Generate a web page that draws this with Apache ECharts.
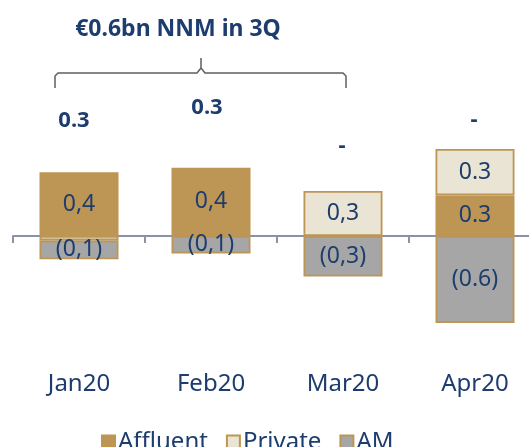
<!DOCTYPE html>
<html>
<head>
<meta charset="utf-8">
<script src="https://cdn.jsdelivr.net/npm/echarts@6/dist/echarts.min.js"></script>
<style>
  html, body { margin: 0; padding: 0; background: #fff; }
  #chart { width: 529px; height: 447px; }
</style>
</head>
<body>
<div id="chart"></div>
<script>
// data
var categories = ["Jan20", "Feb20", "Mar20", "Apr20"];
var affluent = [0.44, 0.47, null, 0.28];
var privateV = [-0.03, null, 0.31, 0.32];
var am = [-0.13, -0.12, -0.28, -0.6];
var affluentLabels = ["0,4", "0,4", "", "0.3"];
var privateLabels = ["", "", "0,3", "0.3"];
var amLabels = ["(0,1)", "(0,1)", "(0,3)", "(0.6)"];
var totals = ["0.3", "0.3", "-", "-"];
var headline = "€0.6bn NNM in 3Q";

var navy = "#1d3d6e";
var gold = "#bd9554";
var font = "Noto Sans";

var chart = echarts.init(document.getElementById("chart"));

function seg(name, data, labels, color) {
  return {
    name: name,
    type: "bar",
    stack: "nnm",
    barWidth: 79,
    data: data,
    itemStyle: { color: color, borderColor: gold, borderWidth: 1.8 },
    label: {
      show: true,
      position: "inside",
      color: navy,
      fontFamily: font,
      fontSize: 23,
      formatter: function (p) { return labels[p.dataIndex]; }
    }
  };
}

// totals above the bars (annotations)
var totalPos = [[74, 121], [207, 108], [342, 146], [474, 120]];
var totalTexts = totals.map(function (t, i) {
  return {
    type: "text",
    x: totalPos[i][0],
    y: totalPos[i][1],
    style: {
      text: t,
      fill: navy,
      font: "bold 22px " + font,
      align: "center",
      verticalAlign: "middle"
    }
  };
});

chart.setOption({
  animation: false,
  grid: { left: 13, right: -12, top: 91, bottom: 80.5, outerBoundsMode: "none", containLabel: false },
  legend: {
    left: 96,
    top: 425,
    itemWidth: 13,
    itemHeight: 13,
    itemGap: 18,
    icon: "rect",
    textStyle: { color: navy, fontFamily: font, fontSize: 24, padding: [0, 0, 0, -2] },
    data: ["Affluent", "Private", "AM"]
  },
  xAxis: [
    {
      type: "category",
      data: categories,
      axisLine: { onZero: true, lineStyle: { color: "#8c91a5", width: 2 } },
      axisTick: { show: true, length: 7, lineStyle: { color: "#8c91a5", width: 2 } },
      axisLabel: { show: false }
    },
    {
      type: "category",
      data: categories,
      position: "bottom",
      axisLine: { show: false, onZero: false },
      axisTick: { show: false },
      axisLabel: { margin: 6, color: navy, fontFamily: font, fontSize: 24 }
    }
  ],
  yAxis: { type: "value", min: -0.9, max: 1, show: false },
  series: [
    seg("Affluent", affluent, affluentLabels, gold),
    seg("Private", privateV, privateLabels, "#e9e4d3"),
    seg("AM", am, amLabels, "#a6a6a6")
  ],
  graphic: [
    {
      type: "text",
      x: 178,
      y: 29,
      style: {
        text: headline,
        fill: navy,
        font: "bold 23px " + font,
        align: "center",
        verticalAlign: "middle"
      }
    },
    {
      type: "polyline",
      shape: {
        points: [[55, 88], [55, 76], [58, 73], [197, 73], [201, 68], [201, 58],
                 [201, 68], [205, 73], [343, 73], [346, 76], [346, 88]]
      },
      style: { stroke: "#5f5f5f", lineWidth: 1.5, fill: null }
    }
  ].concat(totalTexts)
});
</script>
</body>
</html>
